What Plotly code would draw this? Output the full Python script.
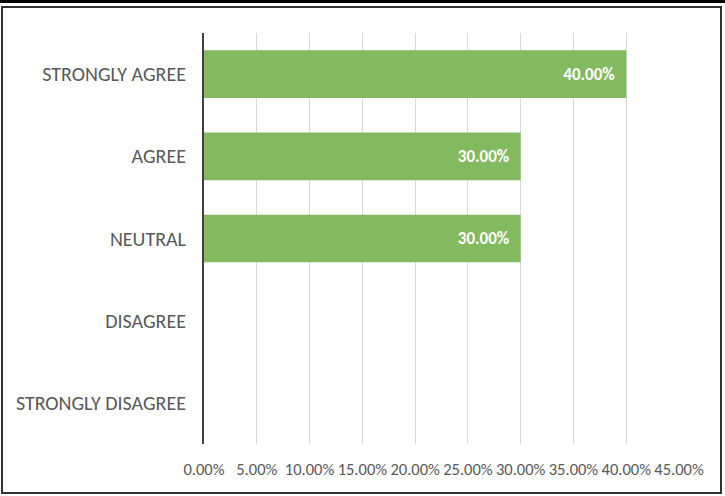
import plotly.graph_objects as go

categories = ["STRONGLY AGREE", "AGREE", "NEUTRAL", "DISAGREE", "STRONGLY DISAGREE"]
values = [0.40, 0.30, 0.30, 0.0, 0.0]
tick_vals = [0, 0.05, 0.10, 0.15, 0.20, 0.25, 0.30, 0.35, 0.40, 0.45]
tick_text = ["0.00%", "5.00%", "10.00%", "15.00%", "20.00%", "25.00%", "30.00%", "35.00%", "40.00%", "45.00%"]

FONT = "Carlito, Lato, sans-serif"

fig = go.Figure(go.Bar(
    x=values, y=categories, orientation="h",
    marker=dict(color="#84ba5f", line=dict(width=0)),
    text=[f"{v*100:.2f}%\u2002" for v in values],
    textposition="inside", insidetextanchor="end",
    textfont=dict(color="white", size=17, family=FONT, weight="bold"),
    cliponaxis=False,
))

fig.update_layout(
    width=725, height=496,
    margin=dict(l=204, r=46, t=33, b=52, autoexpand=False),
    paper_bgcolor="white", plot_bgcolor="white",
    bargap=0.42, showlegend=False,
    font=dict(family=FONT, color="#595959"),
    shapes=[
        dict(type="rect", xref="paper", yref="paper",
             x0=-202/475, x1=(721-204)/475, y0=-(493-444)/411, y1=(444-7)/411,
             line=dict(color="#333333", width=2), layer="below"),
        dict(type="line", xref="paper", yref="paper",
             x0=-204/475, x1=(725-204)/475, y0=(444-1.5)/411, y1=(444-1.5)/411,
             line=dict(color="black", width=3)),
    ],
)
fig.update_xaxes(
    range=[0, 0.45], tickvals=tick_vals, ticktext=tick_text,
    showgrid=True, gridcolor="#d9d9d9", gridwidth=1,
    zeroline=False, showline=False, automargin=False, tickangle=0,
    tickfont=dict(size=16.5, color="#595959", family=FONT),
    ticks="", ticklabelstandoff=13,
)
fig.update_yaxes(
    categoryorder="array", categoryarray=categories[::-1],
    autorange=False, range=[-0.5, 4.5], automargin=False,
    showline=True, linecolor="#404040", linewidth=2,
    showgrid=False, zeroline=False,
    tickfont=dict(size=20, color="#595959", family=FONT),
    ticks="", ticklabelstandoff=12,
)

fig.write_html("out.html", config={"displayModeBar": False},
               post_script="document.body.style.margin='0';")
